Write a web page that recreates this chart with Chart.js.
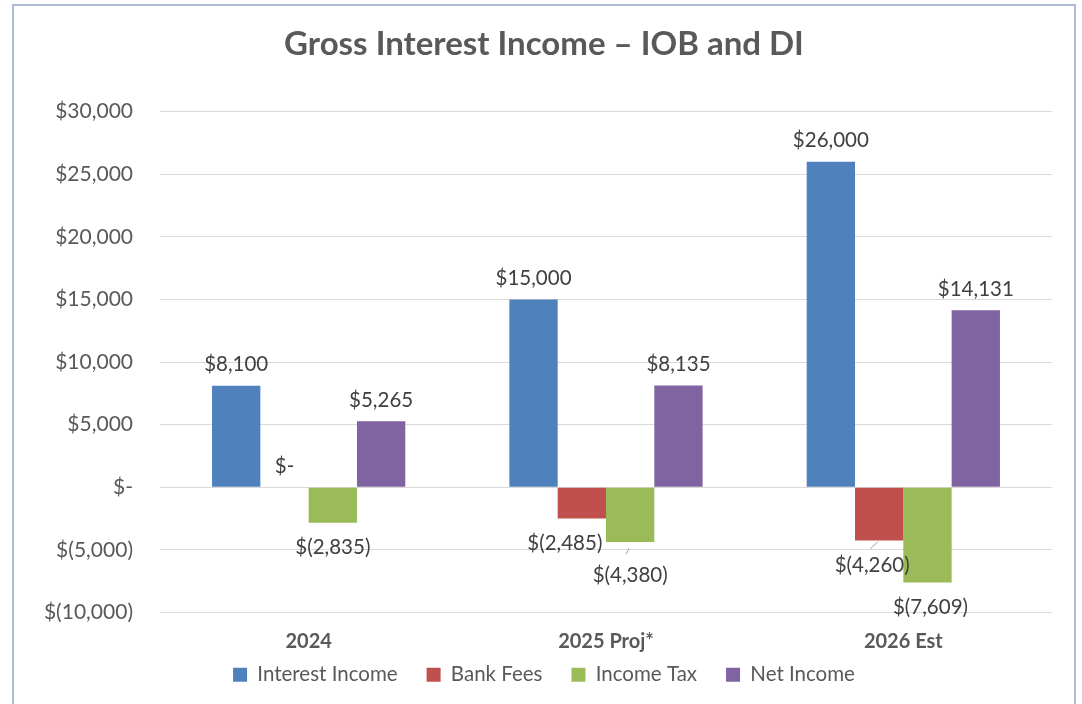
<!DOCTYPE html>
<html>
<head>
<meta charset="utf-8">
<title>Gross Interest Income</title>
<script src="https://cdn.jsdelivr.net/npm/chart.js@4.4.0/dist/chart.umd.min.js"></script>
<style>
    html, body { margin: 0; padding: 0; background: #fff; overflow: hidden; }
    .marco {
        position: absolute; left: 12px; top: 4px;
        width: 1060px; height: 720px;
        border: 2px solid #aebbd8;
    }
    canvas { display: block; }
</style>
</head>
<body>
<div class="marco">
    <canvas id="chartIngresos" width="1060" height="710"></canvas>
</div>
<script>
const categorias = ['2024', '2025 Proj*', '2026 Est'];
const interestIncome = [8100, 15000, 26000];
const bankFees = [0, -2485, -4260];
const incomeTax = [-2835, -4380, -7609];
const netIncome = [5265, 8135, 14131];

const FUENTE = 'Lato, "Open Sans", sans-serif';

// pequeños ajustes de las etiquetas que Excel movió a mano (con línea guía)
const ajustesEtiquetas = {
    '1-1': { dx: -17, dy: 0 },
    '2-1': { dx: 0, dy: 8, guia: [-1, 6, -4, 12] },
    '1-2': { dx: -7, dy: 0, guia: [-1, 1, -9, 8] },
    '2-2': { dx: 3, dy: 0 }
};

function formatoMoneda(v) {
    if (v === 0) return '$-';
    const txt = Math.abs(v).toLocaleString('en-US');
    return v < 0 ? `$(${txt})` : `$${txt}`;
}

const etiquetasBarras = {
    id: 'etiquetasBarras',
    afterDatasetsDraw(chart) {
        const ctx = chart.ctx;
        ctx.save();
        ctx.font = `20.5px ${FUENTE}`;
        ctx.textAlign = 'center';
        ctx.textBaseline = 'middle';
        chart.data.datasets.forEach((ds, i) => {
            chart.getDatasetMeta(i).data.forEach((bar, j) => {
                const v = ds.data[j];
                const aj = ajustesEtiquetas[i + '-' + j] || { dx: 0, dy: 0 };
                if (aj.guia) {
                    const g = aj.guia;
                    ctx.strokeStyle = '#a6a6a6';
                    ctx.lineWidth = 1;
                    ctx.beginPath();
                    ctx.moveTo(bar.x + g[0], bar.y + g[1]);
                    ctx.lineTo(bar.x + g[2], bar.y + g[3]);
                    ctx.stroke();
                }
                let y = v < 0 ? bar.y + 25 : bar.y - 21;
                ctx.fillStyle = '#404040';
                ctx.fillText(formatoMoneda(v), bar.x + aj.dx, y + aj.dy);
            });
        });
        ctx.restore();
    }
};

// la leyenda de Chart.js deja mucho aire arriba con padding grande; se sube un poco
const subirLeyenda = {
    id: 'subirLeyenda',
    afterLayout(chart) {
        chart.legend.top -= 21;
        chart.legend.bottom -= 21;
    }
};

const ctx = document.getElementById('chartIngresos').getContext('2d');
new Chart(ctx, {
    type: 'bar',
    data: {
        labels: categorias,
        datasets: [
            { label: 'Interest Income', data: interestIncome, backgroundColor: '#4f81bd' },
            { label: 'Bank Fees', data: bankFees, backgroundColor: '#c0504d' },
            { label: 'Income Tax', data: incomeTax, backgroundColor: '#9bbb59' },
            { label: 'Net Income', data: netIncome, backgroundColor: '#8064a2' }
        ]
    },
    options: {
        responsive: false,
        animation: false,
        layout: { padding: 0 },
        datasets: { bar: { barPercentage: 1, categoryPercentage: 0.65 } },
        scales: {
            y: {
                min: -10000,
                max: 30000,
                ticks: {
                    stepSize: 5000,
                    padding: 27,
                    color: '#595959',
                    font: { family: FUENTE, size: 21 },
                    callback: v => formatoMoneda(v)
                },
                grid: { color: '#d9d9d9', drawTicks: false },
                border: { display: false },
                afterFit: s => { s.width = 146; }
            },
            // eje vacío a la derecha, solo para dejar el margen y centrar el título
            margenDer: {
                type: 'linear',
                position: 'right',
                ticks: { display: false },
                grid: { display: false, drawTicks: false },
                border: { display: false },
                afterFit: s => { s.width = 22; }
            },
            x: {
                ticks: {
                    padding: 17,
                    color: '#595959',
                    font: { family: FUENTE, size: 20, weight: 'bold' }
                },
                grid: { display: false, drawTicks: false },
                border: { display: false },
                afterFit: s => { s.height = 44; }
            }
        },
        plugins: {
            title: {
                display: true,
                text: 'Gross Interest Income \u2013 IOB and DI',
                color: '#595959',
                font: { family: FUENTE, size: 33, weight: 'bold' },
                padding: { top: 19, bottom: 47 }
            },
            legend: {
                position: 'bottom',
                labels: {
                    boxWidth: 14,
                    boxHeight: 14,
                    padding: 29,
                    color: '#595959',
                    font: { family: FUENTE, size: 20.5 }
                }
            },
            tooltip: { enabled: false }
        }
    },
    plugins: [etiquetasBarras, subirLeyenda]
});
</script>
</body>
</html>
